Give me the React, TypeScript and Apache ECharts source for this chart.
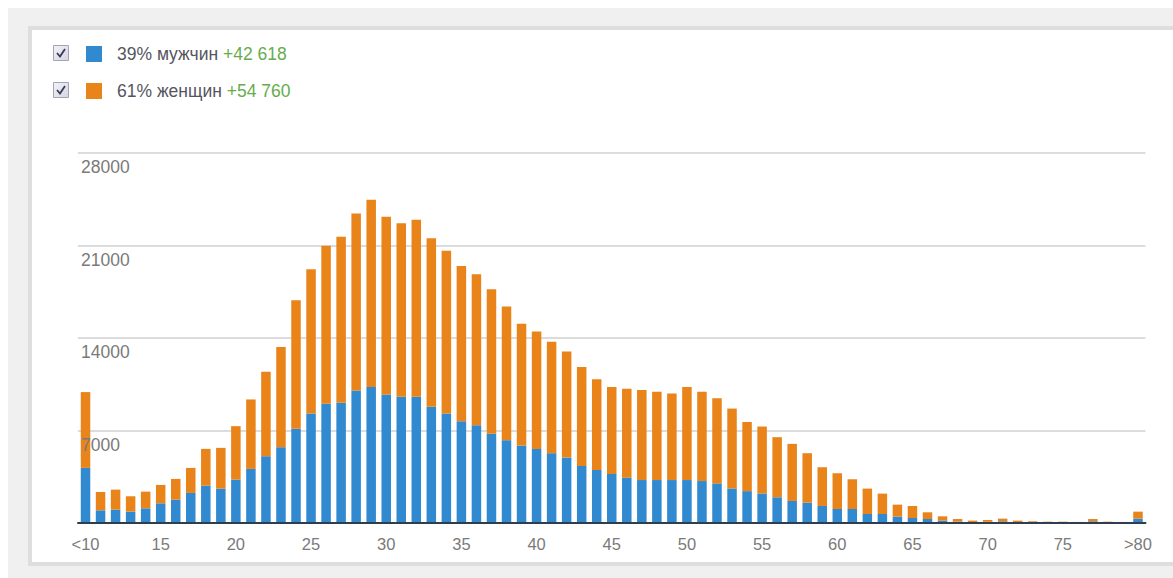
import React, { useEffect, useRef } from "react";
import * as echarts from "echarts";

const categories: string[] = ["<10"];
for (let a = 11; a <= 79; a++) categories.push(String(a));
categories.push(">80");

const maleLabel = "39% мужчин";
const femaleLabel = "61% женщин";
const maleDelta = "+42 618";
const femaleDelta = "+54 760";

const yTicks = [0, 7000, 14000, 21000, 28000];

const male = [
  4170, 960, 1011, 859, 1112, 1491, 1769, 2274, 2830, 2603,
  3285, 4094, 5054, 5736, 7126, 8289, 9021, 9097, 10032, 10285,
  9729, 9552, 9552, 8794, 8289, 7707, 7404, 6747, 6267, 5863,
  5600, 5283, 4953, 4318, 4013, 3708, 3429, 3251, 3251, 3251,
  3251, 3175, 2997, 2616, 2413, 2235, 1946, 1668, 1541, 1289,
  1061, 1061, 682, 682, 480, 379, 303, 177, 110, 70,
  90, 130, 70, 50, 40, 40, 30, 130, 40, 30,
  326,
];

const female = [
  5736, 1390, 1516, 1163, 1263, 1390, 1567, 1896, 2780, 3083,
  4043, 5256, 6393, 7581, 9729, 10916, 11953, 12559, 13393, 14176,
  13444, 13140, 13393, 12761, 12306, 11751, 11422, 10942, 10108, 9223,
  8900, 8433, 8026, 7493, 6858, 6579, 6731, 6807, 6680, 6553,
  7036, 6756, 6452, 6045, 5232, 5065, 4548, 4321, 3740, 2931,
  2704, 2249, 1921, 1542, 910, 910, 506, 328, 190, 110,
  140, 200, 110, 80, 60, 60, 50, 170, 60, 50,
  532,
];

const BLUE = "#3189d0";
const ORANGE = "#e8841a";
const FONT = 'Arial, "Liberation Sans", sans-serif';

export default function App() {
  const ref = useRef<HTMLDivElement>(null);
  useEffect(() => {
    if (!ref.current) return;
    const chart = echarts.init(ref.current, undefined, { renderer: "svg" });
    const checkbox = (y: number) => [
      {
        type: "rect",
        shape: { x: 53.5, y: y + 0.5, width: 15, height: 15 },
        style: {
          fill: new echarts.graphic.LinearGradient(0, 0, 1, 1, [
            { offset: 0, color: "#f2f2f7" },
            { offset: 1, color: "#d6d6e2" },
          ]),
          stroke: "#a4a4b8",
          lineWidth: 1,
        },
        z: 10,
      },
      {
        type: "polyline",
        shape: { points: [[57, y + 8], [60, y + 11.5], [65, y + 4]] },
        style: { stroke: "#3a3a58", lineWidth: 1.8, fill: null },
        z: 11,
      },
    ];
    const legendBase = (name: string, delta: string, top: number) => ({
      data: [name],
      left: 86,
      top,
      padding: 0,
      itemWidth: 16,
      itemHeight: 16,
      icon: "rect",
      selectedMode: false,
      formatter: (n: string) => `{s|}{n|${n}} {g|${delta}}`,
      textStyle: {
        fontFamily: FONT,
        fontSize: 17.5,
        lineHeight: 16,
        rich: {
          s: { width: 10, lineHeight: 16 },
          n: { color: "#555560", fontSize: 17.5, fontFamily: FONT, lineHeight: 16 },
          g: { color: "#66ac4c", fontSize: 17.5, fontFamily: FONT, lineHeight: 16 },
        },
      },
    });
    const yScale = {
      type: "value",
      min: yTicks[0],
      max: yTicks[yTicks.length - 1],
      interval: 7000,
      axisLine: { show: false },
      axisTick: { show: false },
    };
    chart.setOption({
      animation: false,
      backgroundColor: "#ffffff",
      graphic: [
        {
          type: "rect",
          shape: { x: 8, y: 8, width: 1165, height: 570 },
          style: { fill: "#f0f0f0" },
          z: -10,
        },
        {
          type: "rect",
          shape: { x: 30, y: 28, width: 1160, height: 536 },
          style: { fill: "#ffffff", stroke: "#dedede", lineWidth: 4 },
          z: -9,
        },
        ...checkbox(45),
        ...checkbox(82),
      ],
      legend: [
        legendBase(maleLabel, maleDelta, 45),
        legendBase(femaleLabel, femaleDelta, 82),
      ],
      grid: { left: 78, right: 27.5, top: 153, bottom: 55 },
      xAxis: {
        type: "category",
        data: categories,
        boundaryGap: true,
        axisTick: { show: false },
        axisLine: { show: true, lineStyle: { color: "#2e3d4f", width: 2 } },
        axisLabel: {
          interval: 4,
          color: "#7a7a7a",
          fontSize: 16.5,
          fontFamily: FONT,
          margin: 12,
        },
        splitLine: { show: false },
        z: 5,
      },
      yAxis: [
        {
          ...yScale,
          axisLabel: { show: false },
          splitLine: { lineStyle: { color: "#dcdcdc", width: 2 } },
        },
        {
          ...yScale,
          position: "left",
          splitLine: { show: false },
          z: 6,
          axisLabel: {
            inside: true,
            showMinLabel: false,
            margin: 3,
            verticalAlign: "top",
            padding: [5, 0, 0, 0],
            color: "#7a7a7a",
            fontSize: 17.5,
            fontFamily: FONT,
            formatter: (v: number) => String(v),
          },
        },
      ],
      series: [
        {
          name: maleLabel,
          type: "bar",
          stack: "total",
          data: male,
          barWidth: 9.5,
          itemStyle: { color: BLUE },
        },
        {
          name: femaleLabel,
          type: "bar",
          stack: "total",
          data: female,
          barWidth: 9.5,
          itemStyle: { color: ORANGE },
        },
      ],
    });
    return () => chart.dispose();
  }, []);
  return (
    <div
      ref={ref}
      style={{ position: "fixed", left: 0, top: 0, width: 1173, height: 578 }}
    />
  );
}
